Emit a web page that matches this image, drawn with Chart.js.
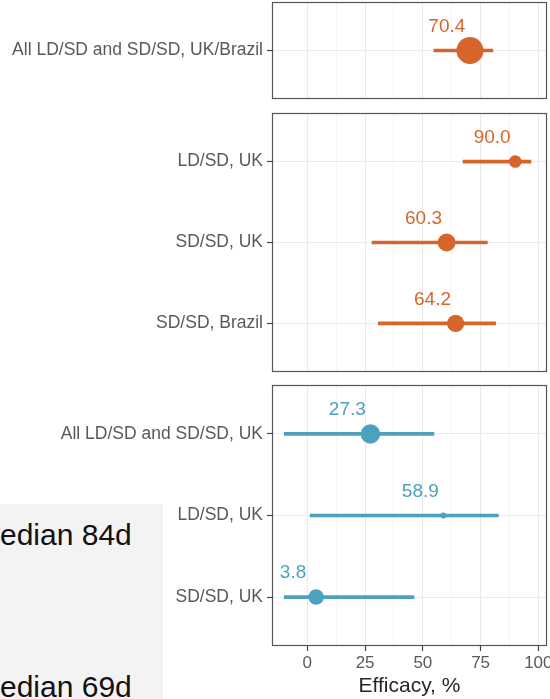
<!DOCTYPE html>
<html>
<head>
<meta charset="utf-8">
<title>Efficacy by dosing group</title>
<script src="https://cdn.jsdelivr.net/npm/chart.js@4/dist/chart.umd.min.js"></script>
<style>
  html, body { margin: 0; padding: 0; background: #fff; }
  #wrap { position: relative; width: 550px; height: 699px; overflow: hidden;
          font-family: "Liberation Sans", Arial, Helvetica, sans-serif; }
  #wrap canvas { position: absolute; left: 0; top: 0; }
  #note { position: absolute; left: 0; top: 504px; width: 163px; height: 195px;
          background: #f3f3f3; overflow: hidden; }
  .note-line { position: absolute; left: -25px; font-size: 30px; line-height: 30px;
               color: #111; white-space: nowrap; }
</style>
</head>
<body>
<div id="wrap">
  <div id="note">
    <div class="note-line" style="top:15.6px">Median 84d</div>
    <div class="note-line" style="top:167.6px">Median 69d</div>
  </div>
  <canvas id="panelAll" width="550" height="699"></canvas>
  <canvas id="panelGroups" width="550" height="699"></canvas>
  <canvas id="panelAsymp" width="550" height="699"></canvas>
</div>

<script>
// ---- data -------------------------------------------------------------
const pooledCategories = ['All LD/SD and SD/SD, UK/Brazil'];
const pooledEfficacy   = [70.4];
const pooledLower      = [54.8];
const pooledUpper      = [80.3];

const groupCategories  = ['LD/SD, UK', 'SD/SD, UK', 'SD/SD, Brazil'];
const groupEfficacy    = [90.0, 60.3, 64.2];
const groupLower       = [67.4, 28.0, 30.7];
const groupUpper       = [96.8, 77.9, 81.5];

const asympCategories  = ['All LD/SD and SD/SD, UK', 'LD/SD, UK', 'SD/SD, UK'];
const asympEfficacy    = [27.3, 58.9, 3.8];
const asympLower       = [-10, 1.2, -10];
const asympUpper       = [54.8, 82.7, 46.2];

const xTickValues = [0, 25, 50, 75, 100];
const xAxisTitle  = 'Efficacy, %';

// ---- styling ----------------------------------------------------------
const ORANGE = 'rgb(214,101,43)';
const TEAL   = 'rgb(76,162,188)';
const FONT   = '"Liberation Sans", Arial, Helvetica, sans-serif';
const X_MIN = -15.3, X_MAX = 103.75;   // axis limits
const AXIS_LEFT = 272;                 // width reserved for category labels
const LABEL_NUDGE = -10;               // value labels sit 10 units left of the estimate

// grid lines: majors at the tick values, minors halfway between
const xGridValues = [];
xTickValues.forEach((v, i) => {
  xGridValues.push(v);
  if (i < xTickValues.length - 1) xGridValues.push((v + xTickValues[i + 1]) / 2);
});
const isMajor = v => xTickValues.includes(v);

// panel frame drawn on top of everything
const panelBorder = {
  id: 'panelBorder',
  afterDraw(chart) {
    const { ctx, chartArea: a } = chart;
    ctx.save();
    ctx.strokeStyle = '#555';
    ctx.lineWidth = 1.2;
    ctx.strokeRect(a.left + 0.5, a.top + 0.5, a.right - a.left - 1, a.bottom - a.top - 1);
    ctx.restore();
  }
};

// estimate printed above each point
const valueLabels = {
  id: 'valueLabels',
  afterDatasetsDraw(chart) {
    const { ctx } = chart;
    const ds = chart.data.datasets[1];
    const meta = chart.getDatasetMeta(1);
    const xs = chart.scales.x;
    ctx.save();
    ctx.font = '19px ' + FONT;
    ctx.fillStyle = ds.backgroundColor;
    ctx.textAlign = 'center';
    ctx.textBaseline = 'middle';
    ds.data.forEach((p, i) => {
      const el = meta.data[i];
      ctx.fillText(p.x.toFixed(1), xs.getPixelForValue(p.x + LABEL_NUDGE), el.y - 24);
    });
    ctx.restore();
  }
};

function makePanel(id, cats, est, lo, hi, color, radii, top, bottom, showX) {
  const n = cats.length;
  const axisHeight = showX ? 53 : 0;
  return new Chart(document.getElementById(id), {
    type: 'bar',
    data: {
      datasets: [
        {
          type: 'bar',
          data: cats.map((c, i) => ({ x: [lo[i], hi[i]], y: i })),
          backgroundColor: color,
          borderWidth: 0,
          borderSkipped: false,
          barThickness: 3,
          order: 2
        },
        {
          type: 'scatter',
          data: cats.map((c, i) => ({ x: est[i], y: i })),
          backgroundColor: color,
          borderWidth: 0,
          pointRadius: radii,
          pointHoverRadius: radii,
          order: 1
        }
      ]
    },
    options: {
      indexAxis: 'y',
      responsive: false,
      animation: false,
      events: [],
      layout: {
        autoPadding: false,
        padding: { left: 0, right: 3, top: top, bottom: 699 - bottom - axisHeight }
      },
      plugins: { legend: { display: false }, tooltip: { enabled: false } },
      scales: {
        x: {
          type: 'linear',
          min: X_MIN,
          max: X_MAX,
          afterBuildTicks: s => { s.ticks = xGridValues.map(v => ({ value: v })); },
          afterFit: s => { s.height = axisHeight; s.paddingLeft = 0; s.paddingRight = 0; },
          border: { display: false },
          grid: {
            color: c => (c.tick && isMajor(c.tick.value)) ? '#e9e9e9' : '#f1f1f1',
            lineWidth: c => (c.tick && isMajor(c.tick.value)) ? 1 : 0.8,
            drawTicks: showX,
            tickLength: 5,
            tickWidth: 1.2,
            tickColor: c => (c.tick && isMajor(c.tick.value)) ? '#444' : 'rgba(0,0,0,0)'
          },
          ticks: {
            display: showX,
            autoSkip: false,
            maxRotation: 0,
            padding: 2,
            color: '#595959',
            font: { family: FONT, size: 17 },
            callback: v => isMajor(v) ? String(v) : ''
          },
          title: {
            display: showX,
            text: xAxisTitle,
            color: '#262626',
            font: { family: FONT, size: 21 },
            padding: { top: 0, bottom: 0 }
          }
        },
        y: {
          type: 'linear',
          min: -0.6,
          max: n - 0.4,
          reverse: true,
          offset: false,
          afterBuildTicks: s => { s.ticks = cats.map((c, i) => ({ value: i })); },
          afterFit: s => { s.width = AXIS_LEFT; s.paddingTop = 0; s.paddingBottom = 0; },
          border: { display: false },
          grid: {
            offset: false,
            color: '#ebebeb',
            lineWidth: 1,
            drawTicks: true,
            tickLength: 5,
            tickWidth: 1.2,
            tickColor: '#444'
          },
          ticks: {
            autoSkip: false,
            padding: 4,
            color: '#595959',
            font: { family: FONT, size: 17.5 },
            callback: v => cats[v]
          }
        }
      }
    },
    plugins: [panelBorder, valueLabels]
  });
}

makePanel('panelAll',    pooledCategories, pooledEfficacy, pooledLower, pooledUpper,
          ORANGE, [13.5], 2, 99, false);
makePanel('panelGroups', groupCategories, groupEfficacy, groupLower, groupUpper,
          ORANGE, [6.3, 9, 8.6], 113, 372, false);
makePanel('panelAsymp',  asympCategories, asympEfficacy, asympLower, asympUpper,
          TEAL, [9.7, 3, 7.8], 385, 646, true);
</script>
</body>
</html>
